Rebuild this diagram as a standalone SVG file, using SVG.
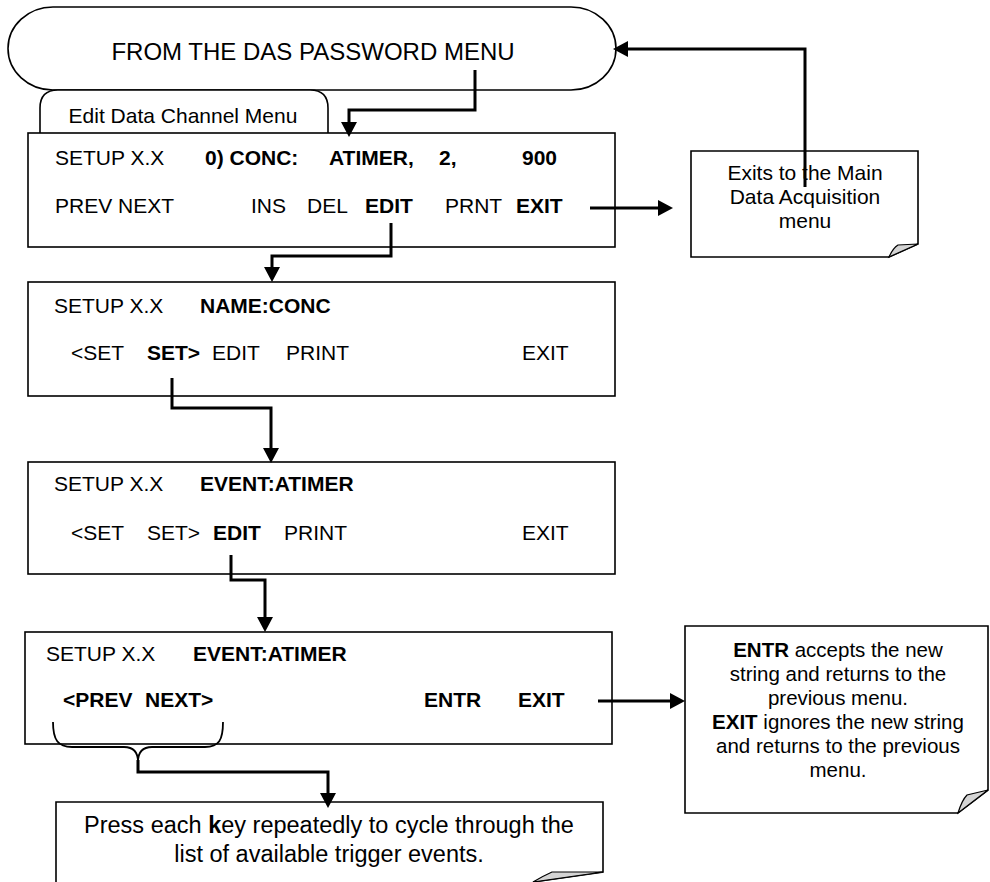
<svg xmlns="http://www.w3.org/2000/svg" width="990" height="882" viewBox="0 0 990 882">
<style>
text{font-family:"Liberation Sans",Arial,sans-serif;fill:#000}
.m{font-size:21px}
.b{font-weight:bold}
.c{text-anchor:middle}
.box{fill:#fff;stroke:#000;stroke-width:1.6}
.conn{fill:none;stroke:#000;stroke-width:3;marker-end:url(#ah)}
.fold{fill:#d4d4d4;stroke:#000;stroke-width:1.2}
</style>
<defs>
<marker id="ah" markerWidth="15" markerHeight="16" refX="9" refY="8" orient="auto" markerUnits="userSpaceOnUse">
<path d="M0,0 L15,8 L0,16 Z" fill="#000"/>
</marker>
</defs>
<g id="start">
<rect class="box" x="8" y="7" width="608" height="83" rx="45" ry="42"/>
<text x="313" y="60" class="c" font-size="24">FROM THE DAS PASSWORD MENU</text>
</g>
<g id="tab">
<path class="box" d="M40,133 V108 Q40,90 58,90 H310 Q328,90 328,108 V133"/>
<text x="183" y="123" class="c m">Edit Data Channel Menu</text>
</g>
<g id="box1">
<rect class="box" x="28" y="133" width="587" height="114"/>
<text class="m" x="55" y="165">SETUP X.X</text>
<text class="m b" x="205" y="165">0) CONC:</text>
<text class="m b" x="329" y="165">ATIMER,</text>
<text class="m b" x="439" y="165">2,</text>
<text class="m b" x="522" y="165">900</text>
<text class="m" x="55" y="213">PREV NEXT</text>
<text class="m" x="251" y="213">INS</text>
<text class="m" x="307" y="213">DEL</text>
<text class="m b" x="365" y="213">EDIT</text>
<text class="m" x="445" y="213">PRNT</text>
<text class="m b" x="516" y="213">EXIT</text>
</g>
<g id="note1">
<path class="box" d="M691,151 H918 V244 L889,257 H691 Z"/>
<path class="fold" d="M889,257 Q893,248 898,245 L918,244 Z"/>
<text class="m c" x="805" y="180">Exits to the Main</text>
<text class="m c" x="805" y="204">Data Acquisition</text>
<text class="m c" x="805" y="228">menu</text>
</g>
<g id="box2">
<rect class="box" x="28" y="282" width="587" height="114"/>
<text class="m" x="54" y="313">SETUP X.X</text>
<text class="m b" x="200" y="313">NAME:CONC</text>
<text class="m" x="71" y="360">&lt;SET</text>
<text class="m b" x="147" y="360">SET&gt;</text>
<text class="m" x="212" y="360">EDIT</text>
<text class="m" x="286" y="360">PRINT</text>
<text class="m" x="522" y="360">EXIT</text>
</g>
<g id="box3">
<rect class="box" x="28" y="462" width="587" height="112"/>
<text class="m" x="54" y="491">SETUP X.X</text>
<text class="m b" x="200" y="491">EVENT:ATIMER</text>
<text class="m" x="71" y="540">&lt;SET</text>
<text class="m" x="147" y="540">SET&gt;</text>
<text class="m b" x="213" y="540">EDIT</text>
<text class="m" x="284" y="540">PRINT</text>
<text class="m" x="522" y="540">EXIT</text>
</g>
<g id="box4">
<rect class="box" x="25" y="632" width="587" height="112"/>
<text class="m" x="46" y="661">SETUP X.X</text>
<text class="m b" x="193" y="661">EVENT:ATIMER</text>
<text class="m b" x="63" y="707">&lt;PREV</text>
<text class="m b" x="145" y="707">NEXT&gt;</text>
<text class="m b" x="424" y="707">ENTR</text>
<text class="m b" x="518" y="707">EXIT</text>
</g>
<g id="note2">
<path class="box" d="M685,626 H988 V790 L958,813 H685 Z"/>
<path class="fold" d="M958,813 Q962,800 967,795 L988,790 Z"/>
<text x="838" y="657" class="c" font-size="20.5"><tspan font-weight="bold">ENTR</tspan> accepts the new</text>
<text x="838" y="681" class="c" font-size="20.5">string and returns to the</text>
<text x="838" y="705" class="c" font-size="20.5">previous menu.</text>
<text x="838" y="729" class="c" font-size="20.5"><tspan font-weight="bold">EXIT</tspan> ignores the new string</text>
<text x="838" y="753" class="c" font-size="20.5">and returns to the previous</text>
<text x="838" y="777" class="c" font-size="20.5">menu.</text>
</g>
<g id="note3">
<path class="box" d="M56,882 V802 H603 V872 L533,882"/>
<path class="fold" d="M533,882 Q543,876 552,872 L603,872 Z"/>
<text x="329" y="833" class="c" font-size="23.5">Press each <tspan font-weight="bold">k</tspan>ey repeatedly to cycle through the</text>
<text x="329" y="862" class="c" font-size="23.5">list of available trigger events.</text>
</g>
<g id="brace">
<path d="M53,722 C53,740 58,747 72,747 H124 C134,747 138,752 138,762 C138,752 142,747 152,747 H205 C219,747 223,740 223,722" fill="none" stroke="#000" stroke-width="1.8"/>
</g>
<g id="connectors">
<path class="conn" d="M475,70 V110 H349 V131"/>
<path class="conn" d="M590,208 H667"/>
<path class="conn" d="M805,187 V49 H619"/>
<path class="conn" d="M391,223 V256 H272 V276"/>
<path class="conn" d="M172,378 V408 H271 V457"/>
<path class="conn" d="M231,555 V580 H265 V626"/>
<path class="conn" d="M598,701 H679"/>
<path class="conn" d="M138,760 V772 H328 V802"/>
</g>
</svg>
